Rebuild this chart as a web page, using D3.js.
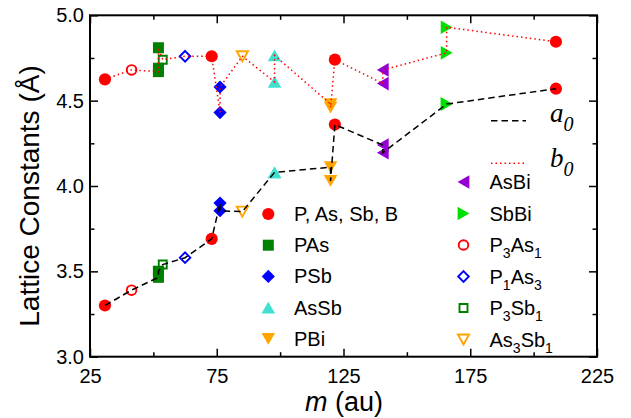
<!DOCTYPE html>
<html lang="en">
  <head>
    <meta charset="utf-8">
    <title>Lattice Constants</title>
    <style>
      body { margin: 0; background: #fff; }
      svg { display: block; font-family: 'Liberation Sans', Arial, Helvetica, sans-serif; }
      .tick line { stroke: #000; stroke-width: 1.5; }
    </style>
  </head>
  <body>
    <svg></svg>
    <script src="https://cdn.jsdelivr.net/npm/d3@7"></script>
    <script>
    var width = 631, height = 418;

    // one entry per compound, sorted by mean mass; a0/b0 hold one value per structure
    var compounds = ["elem", "P3As1", "PAs", "P3Sb1", "P1As3", "elem", "PSb", "As3Sb1", "AsSb", "PBi", "elem", "AsBi", "SbBi", "elem"];
    var masses = [30.9, 41.4, 52.0, 53.7, 62.5, 73.0, 76.3, 85.1, 97.8, 119.9, 121.6, 140.5, 165.7, 208.8];
    var a0 = [[3.30], [3.39], [3.465, 3.50, 3.50], [3.54], [3.58], [3.69], [3.90, 3.855], [3.85], [4.08, 4.08], [4.11, 4.03], [4.36], [4.24, 4.195], [4.48, 4.48], [4.57]];
    var b0 = [[4.625], [4.68], [4.67, 4.69, 4.81], [4.74], [4.76], [4.76], [4.43, 4.58], [4.76], [4.61, 4.765], [4.48, 4.46], [4.74], [4.60, 4.68], [4.78, 4.93], [4.845]];

    var xMajor = [25, 75, 125, 175, 225];
    var xMinor = [50, 100, 150, 200];
    var yMajor = [3.0, 3.5, 4.0, 4.5, 5.0];
    var yMinor = [3.25, 3.75, 4.25, 4.75];

    var legendLeft = ["elem", "PAs", "PSb", "AsSb", "PBi"];
    var legendRight = ["AsBi", "SbBi", "P3As1", "P1As3", "P3Sb1", "As3Sb1"];
    var legendNames = {
      elem: "P, As, Sb, B", PAs: "PAs", PSb: "PSb", AsSb: "AsSb", PBi: "PBi",
      AsBi: "AsBi", SbBi: "SbBi", P3As1: "P_3As_1", P1As3: "P_1As_3", P3Sb1: "P_3Sb_1", As3Sb1: "As_3Sb_1"
    };

    var styles = {
      elem:   {shape: "circle",  color: "#ff0000", open: false},
      PAs:    {shape: "square",  color: "#008000", open: false},
      PSb:    {shape: "diamond", color: "#0000ff", open: false},
      AsSb:   {shape: "up",      color: "#40e0d0", open: false},
      PBi:    {shape: "down",    color: "#ffa500", open: false},
      AsBi:   {shape: "left",    color: "#9400d3", open: false},
      SbBi:   {shape: "right",   color: "#00e000", open: false},
      P3As1:  {shape: "circle",  color: "#ff0000", open: true},
      P1As3:  {shape: "diamond", color: "#0000ff", open: true},
      P3Sb1:  {shape: "square",  color: "#008000", open: true},
      As3Sb1: {shape: "down",    color: "#ffa500", open: true}
    };

    var svg = d3.select("svg").attr("width", width).attr("height", height);

    var x = d3.scaleLinear().domain([25, 225]).range([90, 597]);
    var y = d3.scaleLinear().domain([3, 5]).range([356.7, 15.3]);

    // flatten into points
    var points = [];
    compounds.forEach(function(c, i) {
      a0[i].forEach(function(v, j) {
        points.push({key: c, m: masses[i], a: v, b: b0[i][j]});
      });
    });

    // marker shapes centred on their bounding box
    function shapePath(shape, open) {
      var s = open ? 4.0 : 5.5;     // square half side
      var d = open ? 5.3 : 6.6;     // diamond half diagonal
      var w = open ? 5.6 : 6.8;     // triangle half base
      var h = open ? 5.0 : 5.9;     // triangle half height
      switch (shape) {
        case "square":  return "M" + -s + "," + -s + "H" + s + "V" + s + "H" + -s + "Z";
        case "diamond": return "M0," + -d + "L" + d + ",0L0," + d + "L" + -d + ",0Z";
        case "up":      return "M0," + -h + "L" + w + "," + h + "L" + -w + "," + h + "Z";
        case "down":    return "M0," + h + "L" + w + "," + -h + "L" + -w + "," + -h + "Z";
        case "left":    return "M" + -h + ",0L" + h + "," + -w + "L" + h + "," + w + "Z";
        case "right":   return "M" + h + ",0L" + -h + "," + -w + "L" + -h + "," + w + "Z";
      }
    }

    function drawMarker(g, key) {
      var st = styles[key];
      var el;
      if (st.shape == "circle") {
        el = g.append("circle").attr("r", st.open ? 4.8 : 6.1);
      } else {
        el = g.append("path").attr("d", shapePath(st.shape, st.open));
      }
      if (st.open) {
        el.attr("fill", "none").attr("stroke", st.color).attr("stroke-width", 1.9);
      } else {
        el.attr("fill", st.color);
      }
    }

    // axes, ticks inward on all four sides
    function styleAxis(g) {
      g.select(".domain").remove();
      g.selectAll("text").attr("font-size", 20).attr("fill", "#000")
        .attr("font-family", "'Liberation Sans', Arial, sans-serif");
    }
    var h0 = y.range()[0], h1 = y.range()[1];
    svg.append("g").attr("transform", "translate(0," + h0 + ")")
      .call(d3.axisBottom(x).tickValues(xMajor).tickSize(-8).tickPadding(12).tickFormat(d3.format("d"))).call(styleAxis);
    svg.append("g").attr("transform", "translate(0," + h0 + ")")
      .call(d3.axisBottom(x).tickValues(xMinor).tickSize(-4.5).tickFormat("")).call(styleAxis);
    svg.append("g").attr("transform", "translate(0," + h1 + ")")
      .call(d3.axisTop(x).tickValues(xMajor).tickSize(-8).tickFormat("")).call(styleAxis);
    svg.append("g").attr("transform", "translate(0," + h1 + ")")
      .call(d3.axisTop(x).tickValues(xMinor).tickSize(-4.5).tickFormat("")).call(styleAxis);
    svg.append("g").attr("transform", "translate(90,0)")
      .call(d3.axisLeft(y).tickValues(yMajor).tickSize(-8).tickPadding(6).tickFormat(d3.format(".1f"))).call(styleAxis);
    svg.append("g").attr("transform", "translate(90,0)")
      .call(d3.axisLeft(y).tickValues(yMinor).tickSize(-4.5).tickFormat("")).call(styleAxis);
    svg.append("g").attr("transform", "translate(597,0)")
      .call(d3.axisRight(y).tickValues(yMajor).tickSize(-8).tickFormat("")).call(styleAxis);
    svg.append("g").attr("transform", "translate(597,0)")
      .call(d3.axisRight(y).tickValues(yMinor).tickSize(-4.5).tickFormat("")).call(styleAxis);

    svg.append("rect")
      .attr("x", 90).attr("y", h1).attr("width", 597 - 90).attr("height", h0 - h1)
      .attr("fill", "none").attr("stroke", "#000").attr("stroke-width", 2);

    // markers
    var marks = svg.append("g");
    points.forEach(function(p) {
      drawMarker(marks.append("g").attr("transform", "translate(" + x(p.m) + "," + y(p.a) + ")"), p.key);
      drawMarker(marks.append("g").attr("transform", "translate(" + x(p.m) + "," + y(p.b) + ")"), p.key);
    });

    // connecting lines drawn over the markers
    var lineA = d3.line().x(function(d) { return x(d.m); }).y(function(d) { return y(d.a); });
    var lineB = d3.line().x(function(d) { return x(d.m); }).y(function(d) { return y(d.b); });
    svg.append("path").attr("d", lineA(points)).attr("fill", "none")
      .attr("stroke", "#000").attr("stroke-width", 1.5).attr("stroke-dasharray", "6.5,4");
    svg.append("path").attr("d", lineB(points)).attr("fill", "none")
      .attr("stroke", "#ff0000").attr("stroke-width", 1.5).attr("stroke-dasharray", "1.5,3");

    // legend
    function addLabel(text, str) {
      var parts = str.split(/(_\d)/);
      var down = false;
      parts.forEach(function(part) {
        if (!part) return;
        if (part[0] == "_") {
          text.append("tspan").attr("font-size", 14).attr("dy", down ? 0 : 6).text(part.slice(1));
          down = true;
        } else {
          text.append("tspan").attr("dy", down ? -6 : 0).text(part);
          down = false;
        }
      });
    }
    function legendColumn(keys, mx, tx, top, step) {
      keys.forEach(function(k, i) {
        var ry = top + i * step;
        drawMarker(svg.append("g").attr("transform", "translate(" + mx + "," + ry + ")"), k);
        var t = svg.append("text").attr("x", tx).attr("y", ry + 7).attr("font-size", 20).attr("fill", "#000");
        addLabel(t, legendNames[k]);
      });
    }
    legendColumn(legendLeft, 268.3, 294, 214, 31.2);
    legendColumn(legendRight, 463.5, 489.5, 182, 31.5);

    // a0 / b0 line legend
    svg.append("line").attr("x1", 491).attr("x2", 526).attr("y1", 120.7).attr("y2", 120.7)
      .attr("stroke", "#000").attr("stroke-width", 1.5).attr("stroke-dasharray", "6.5,4");
    svg.append("line").attr("x1", 491).attr("x2", 526).attr("y1", 163.3).attr("y2", 163.3)
      .attr("stroke", "#ff0000").attr("stroke-width", 1.5).attr("stroke-dasharray", "1.5,3");
    [["a", 122], ["b", 166.5]].forEach(function(d) {
      var t = svg.append("text").attr("x", 550).attr("y", d[1])
        .attr("font-family", "'Liberation Serif', 'Times New Roman', serif")
        .attr("font-style", "italic").attr("font-size", 27).attr("fill", "#000");
      t.append("tspan").text(d[0]);
      t.append("tspan").attr("font-size", 20).attr("dy", 9).text("0");
    });

    // axis titles
    svg.append("text")
      .attr("transform", "translate(39,196) rotate(-90)")
      .attr("text-anchor", "middle").attr("font-size", 28).attr("fill", "#000")
      .text("Lattice Constants (Å)");
    var xt = svg.append("text").attr("x", 344).attr("y", 411)
      .attr("text-anchor", "middle").attr("font-size", 27).attr("fill", "#000");
    xt.append("tspan").attr("font-style", "italic").text("m");
    xt.append("tspan").text(" (au)");
    </script>
  </body>
</html>
